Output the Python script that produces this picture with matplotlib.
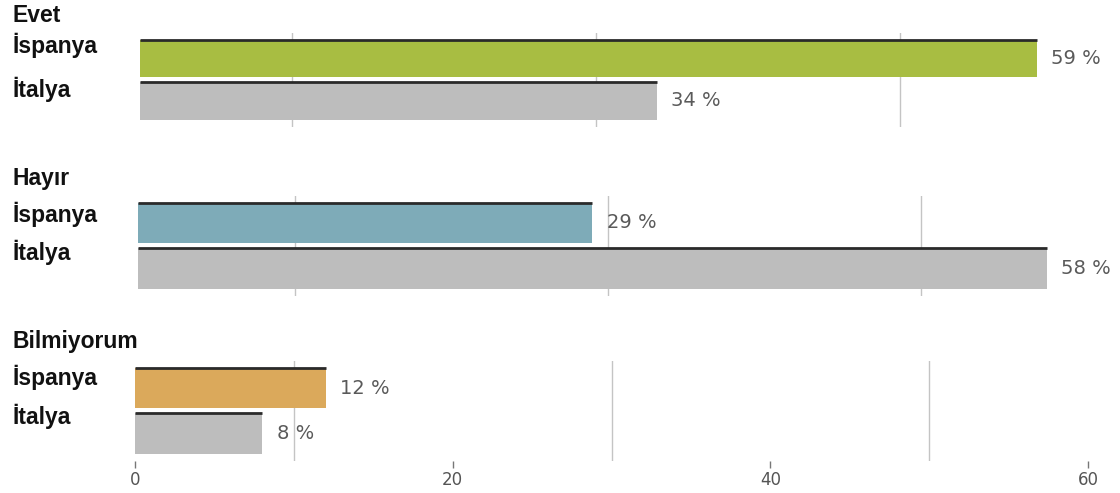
import matplotlib
matplotlib.use("Agg")
import matplotlib.pyplot as plt

# Survey answers, percentage per country
categories = ["Evet", "Hayır", "Bilmiyorum"]
countries = ["İspanya", "İtalya"]
spain = [59, 29, 12]
italy = [34, 58, 8]
x_ticks = [0, 20, 40, 60]
grid_values = [10, 30, 50]

spain_colors = ["#a8bd42", "#7eabb8", "#dba95b"]
italy_color = "#bdbdbd"

W, H = 1120, 493
fig = plt.figure(figsize=(W / 100, H / 100), dpi=100)
fig.patch.set_facecolor("white")

# Panel geometry in pixels: left edge, width of the 0..60 range,
# centre of the first bar and spacing between bar centres
panel_left = [140, 138, 135]
panel_width = [912, 940, 953]
bar_center0 = [58.5, 223, 388]
bar_spacing = [42.5, 45.5, 45.5]
header_base = [22, 185, 348]
label_base = [[53, 97], [222, 260], [385, 424]]

for i, cat in enumerate(categories):
    top_px = bar_center0[i] - 0.6 * bar_spacing[i]
    bot_px = bar_center0[i] + 1.6 * bar_spacing[i]
    ax = fig.add_axes([panel_left[i] / W, 1 - bot_px / H,
                       panel_width[i] / W, (bot_px - top_px) / H])
    ax.set_xlim(0, 60)
    ax.set_ylim(1.6, -0.6)
    for s in ax.spines.values():
        s.set_visible(False)

    for g in grid_values:
        ax.axvline(g, color="#c4c4c4", lw=1, zorder=0)

    vals = [spain[i], italy[i]]
    cols = [spain_colors[i], italy_color]
    h = 0.88
    ax.barh([0, 1], vals, height=h, color=cols, zorder=2)
    for k, v in enumerate(vals):
        ax.hlines(k - h / 2, 0, v, color="#2a2a2a", lw=2, zorder=3)
        ax.annotate(f"{v} %", xy=(v, k), xytext=(10.5, 0),
                    textcoords="offset points", va="center", ha="left",
                    fontsize=14, color="#5a5a5a", family="DejaVu Sans")

    ax.set_yticks([])
    if i == len(categories) - 1:
        ax.set_xticks(x_ticks)
        ax.set_xticklabels([str(t) for t in x_ticks])
        ax.tick_params(axis="x", length=5, width=1, color="#777777",
                       labelsize=12, labelcolor="#555555", pad=2)
    else:
        ax.set_xticks([])

    fig.text(12 / W, 1 - header_base[i] / H, cat, fontsize=16.5,
             fontweight="bold", family="Liberation Sans", color="#111111",
             va="baseline", ha="left")
    for k, c in enumerate(countries):
        fig.text(12 / W, 1 - label_base[i][k] / H, c, fontsize=16.5,
                 fontweight="bold", family="Liberation Sans",
                 color="#111111", va="baseline", ha="left")

fig.savefig("out.png", dpi=100, facecolor="white")
